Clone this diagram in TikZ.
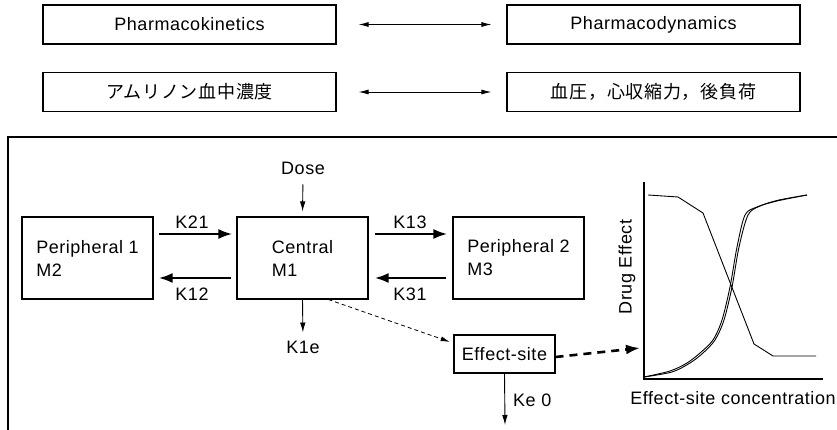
\documentclass[tikz,border=0pt]{standalone}
\usepackage{fontspec}
\setmainfont{Liberation Sans}[LetterSpace=3]
\newfontfamily\jpfont{Noto Sans CJK JP}[LetterSpace=4]
\usetikzlibrary{arrows.meta}
\begin{document}
\begin{tikzpicture}[x=1pt,y=-1pt,
  every node/.style={font=\fontsize{18}{21}\selectfont, text=black},
  box/.style={draw, line width=1.1pt, inner sep=0pt, align=left},
  topbox/.style={box, minimum width=293pt, minimum height=39pt},
  cbox/.style={box, minimum width=131pt, minimum height=82pt},
  lbl/.style={inner sep=0pt},
  thinarrow/.style={line width=0.9pt, -{Latex[length=10pt,width=5.5pt]}},
  botharrow/.style={line width=0.9pt, {Latex[length=10pt,width=5pt]}-{Latex[length=10pt,width=5pt]}},
  thickarrow/.style={line width=2.6pt, -{Latex[length=14pt,width=10pt]}},
  curve/.style={line width=0.9pt}
]
\useasboundingbox (0,0) rectangle (837,430);

% top rows
\node[topbox] (pk) at (189.5,24.5) {Pharmacokinetics};
\node[topbox] (pd) at (653.5,24.5) {Pharmacodynamics};
\node[topbox] (jl) at (189.5,92) {\jpfont アムリノン血中濃度};
\node[topbox] (jr) at (653.5,92) {\jpfont 血圧，心収縮力，後負荷};
\draw[botharrow, shorten <=22pt, shorten >=15pt] (pk.east) -- (pd.west);
\draw[botharrow, shorten <=22pt, shorten >=15pt] (jl.east) -- (jr.west);

% frame
\draw[line width=1.6pt] (8,431) -- (8,137) -- (838,137);

% compartments
\node[cbox] (p1) at (87.5,258) {Peripheral 1\\[2pt]M2};
\node[cbox] (c) at (302.5,258) {Central\\[2pt]M1};
\node[cbox] (p2) at (518.5,258) {Peripheral 2\\[2pt]M3};

\draw[thickarrow, shorten <=5pt, shorten >=4pt] ([yshift=24pt]p1.east) -- ([yshift=24pt]c.west);
\draw[thickarrow, shorten <=5pt, shorten >=5pt] ([yshift=-20pt]c.west) -- ([yshift=-20pt]p1.east);
\draw[thickarrow, shorten <=6pt, shorten >=5pt] ([yshift=24pt]c.east) -- ([yshift=24pt]p2.west);
\draw[thickarrow, shorten <=6pt, shorten >=6pt] ([yshift=-20pt]p2.west) -- ([yshift=-20pt]c.east);

\node[lbl] (k21) at (192,222) {K21};
\node[lbl] (k12) at (192,294) {K12};
\node[lbl] (k13) at (410,222) {K13};
\node[lbl] (k31) at (410,294) {K31};

% dose and elimination
\node[lbl] (dose) at (303,168) {Dose};
\draw[thinarrow, shorten <=10pt, shorten >=5pt] (dose.south) -- (c.north);
\node[lbl] (k1e) at (303,347) {K1e};
\draw[thinarrow, shorten >=8pt] (c.south) -- (k1e.north);

% effect site
\node[box, minimum width=101pt, minimum height=38pt] (es) at (504.5,354) {Effect-site};
\draw[line width=0.8pt, dash pattern=on 4pt off 3pt, -{Latex[length=9pt,width=5pt]}, shorten >=4pt] (c.-58) -- (es.168);
\coordinate (ke) at (505,425);
\draw[thinarrow] (es.south) -- (ke);
\node[lbl, anchor=west] (ke0) at (513,400) {Ke 0};
\coordinate (plotin) at (640,348);
\draw[line width=2.6pt, dash pattern=on 8pt off 6pt, -{Latex[length=14pt,width=10pt]}] ([yshift=-3pt]es.east) -- (plotin);

% plot
\draw[line width=1.2pt] (644,182) -- (644,379) -- (823,379);
\draw[curve] (648,195) -- (678,197) -- (703,213) -- (754,344) -- (773,356) -- (816,356);
\draw[curve] plot[smooth, tension=0.5] coordinates {(644,377) (670,371) (687,363) (700,353) (713,340) (722,320) (730,287) (737,247) (745,215) (757,207) (777,201) (807,195)};
\draw[curve] plot[smooth, tension=0.5] coordinates {(644,377) (672,372) (690,363) (703,353) (715,340) (724,320) (732,287) (739,247) (748,215) (760,206) (779,200) (807,195)};
\node[lbl, rotate=90] (ylab) at (627,267) {Drug Effect};
\node[lbl] (xlab) at (733,398) {Effect-site concentration};
\end{tikzpicture}
\end{document}
